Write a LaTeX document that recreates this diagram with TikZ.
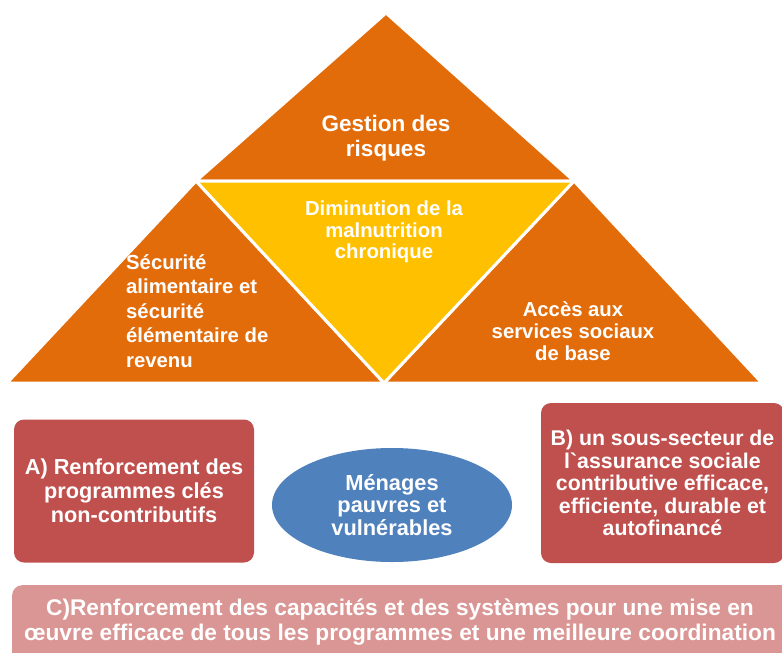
\documentclass[tikz,border=0pt]{standalone}
\usepackage{fontspec}
\setmainfont{Liberation Sans}
\newfontfamily\gravefont{Liberation Sans}
\usetikzlibrary{shapes.geometric, positioning}
\definecolor{orangetri}{HTML}{E36C0A}
\definecolor{yellowtri}{HTML}{FFC000}
\definecolor{redbox}{HTML}{C0504D}
\definecolor{bluemen}{HTML}{4F81BD}
\definecolor{pinkbox}{HTML}{D99694}

\tikzset{
	tri/.style={fill=orangetri, draw=white, line width=3pt, line join=miter},
	lbl/.style={text=white, font=\fontsize{20}{24}\selectfont\bfseries, align=center, inner sep=0pt},
	pillar/.style={fill=redbox, rounded corners=10pt, inner sep=0pt},
}

\begin{document}
\begin{tikzpicture}[x=1pt, y=-1pt]
	\useasboundingbox (0,0) rectangle (782,653);
	% corners of the pyramid
	\coordinate (apex) at (386,13);
	\coordinate (ml) at (196,181);
	\coordinate (mr) at (574,181);
	\coordinate (bm) at (384,383);
	\coordinate (bl) at (7,383);
	\coordinate (br) at (762,383);

	\draw[tri] (apex) -- (mr) -- (ml) -- cycle;
	\draw[tri] (ml) -- (bm) -- (bl) -- cycle;
	\draw[tri] (mr) -- (br) -- (bm) -- cycle;
	\draw[tri, fill=yellowtri] (ml) -- (mr) -- (bm) -- cycle;

	\draw (386,138) node[lbl, font=\fontsize{22.5}{25}\selectfont\bfseries] (risk) {Gestion des\\risques}
		(384,232) node[lbl, font=\fontsize{20.3}{21.5}\selectfont\bfseries] (malnut) {Diminution de la\\malnutrition\\chronique}
		(126,311) node[lbl, anchor=west, align=left, font=\fontsize{20.3}{24.5}\selectfont\bfseries] (secu) {Sécurité\\alimentaire et\\sécurité\\élémentaire de\\revenu}
		(573,331) node[lbl, font=\fontsize{20.3}{22}\selectfont\bfseries] (acces) {Accès aux\\services sociaux\\de base};

	% the three pillars
	\node[pillar, minimum width=240pt, minimum height=143pt] (progA) at (134,491) {};
	\node[lbl, font=\fontsize{21.7}{24}\selectfont\bfseries] at (progA) {A) Renforcement des\\programmes clés\\non-contributifs};
	\node[ellipse, fill=bluemen, minimum width=240pt, minimum height=114pt, inner sep=0pt] (menages) at (392,505) {};
	\node[lbl, font=\fontsize{21.8}{22.5}\selectfont\bfseries] at (menages) {Ménages\\pauvres et\\vulnérables};
	\node[pillar, minimum width=243pt, minimum height=160pt] (progB) at (662.5,483) {};
	\node[lbl, font=\fontsize{21.3}{22.5}\selectfont\bfseries] at (progB) {B) un sous-secteur de\\l{\gravefont`}assurance sociale\\contributive efficace,\\efficiente, durable et\\autofinancé};
	\node[pillar, fill=pinkbox, minimum width=780pt, minimum height=90pt, anchor=north west] (progC) at (12,585) {};
	\node[lbl, font=\fontsize{22.7}{25}\selectfont\bfseries] at (400,622) {C)Renforcement des capacités et des systèmes pour une mise en\\œuvre efficace de tous les programmes et une meilleure coordination};
\end{tikzpicture}
\end{document}
